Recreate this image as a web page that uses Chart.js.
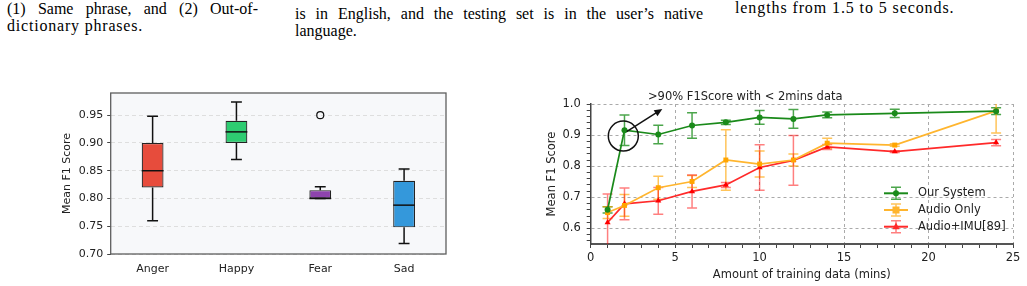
<!DOCTYPE html>
<html>
<head>
<meta charset="utf-8">
<script src="https://cdn.jsdelivr.net/npm/chart.js@4"></script>
<style>
  body { margin: 0; width: 1027px; height: 286px; background: #fff; position: relative; overflow: hidden; }
  .txt { position: absolute; font-family: "Liberation Serif", serif; font-size: 16px; line-height: 17px; color: #000; white-space: nowrap; }
  .just { text-align: justify; text-align-last: justify; white-space: normal; }
  canvas { position: absolute; }
</style>
</head>
<body>
<div class="txt just" style="left:7px; top:-0.5px; width:251px;">(1) Same phrase, and (2) Out-of-</div>
<div class="txt" style="left:7px; top:16.5px; letter-spacing:0.8px;">dictionary phrases.</div>
<div class="txt just" style="left:295px; top:4.5px; width:408px;">is in English, and the testing set is in the user’s native</div>
<div class="txt" style="left:295px; top:21.5px;">language.</div>
<div class="txt" style="left:735px; top:-1px; letter-spacing:0.9px;">lengths from 1.5 to 5 seconds.</div>

<canvas id="boxChart" width="430" height="206" style="left:40px; top:80px;"></canvas>
<canvas id="lineChart" width="487" height="201" style="left:540px; top:85px;"></canvas>

<script>
// ---- left: emotion box plot ----
const emotions = ["Anger", "Happy", "Fear", "Sad"];
const boxMin = [0.760, 0.870, 0.800, 0.719];
const boxQ1 = [0.820, 0.900, 0.800, 0.748];
const boxMedian = [0.850, 0.920, 0.800, 0.788];
const boxQ3 = [0.900, 0.940, 0.815, 0.832];
const boxMax = [0.948, 0.974, 0.821, 0.853];
const boxOutliers = [[], [], [0.95], []];
const boxColors = ["#e74c3c", "#2ecc71", "#8e44ad", "#3498db"];
const boxYTicks = [0.70, 0.75, 0.80, 0.85, 0.90, 0.95];

// ---- right: F1 vs amount of training data ----
const trainMins = [1, 2, 4, 6, 8, 10, 12, 14, 18, 24];
const oursMean = [0.660, 0.916, 0.902, 0.931, 0.941, 0.957, 0.952, 0.965, 0.970, 0.977];
const oursErr = [0.010, 0.049, 0.030, 0.041, 0.007, 0.022, 0.030, 0.009, 0.013, 0.011];
const audioMean = [0.651, 0.674, 0.731, 0.751, 0.820, 0.807, 0.820, 0.874, 0.868, 0.978];
const audioErr = [0.019, 0.035, 0.037, 0.019, 0.097, 0.042, 0.019, 0.016, 0.004, 0.071];
const imuMean = [0.619, 0.679, 0.689, 0.719, 0.740, 0.796, 0.819, 0.862, 0.847, 0.876];
const imuErr = [0.092, 0.051, 0.043, 0.053, 0.008, 0.073, 0.080, 0.008, 0.003, 0.010];
const seriesNames = ["Our System", "Audio Only", "Audio+IMU[89]"];
const xMajorTicks = [0, 5, 10, 15, 20, 25];
const xMinorTicks = [1, 2, 3, 4, 6, 7, 8, 9, 11, 12, 13, 14, 16, 17, 18, 19, 21, 22, 23, 24];
const yMajorTicks = [0.6, 0.7, 0.8, 0.9, 1.0];
const yMinorTicks = [0.56, 0.58, 0.62, 0.64, 0.66, 0.68, 0.72, 0.74, 0.76, 0.78, 0.82, 0.84, 0.86, 0.88, 0.92, 0.94, 0.96, 0.98];
const annotText = ">90% F1Score with < 2mins data";

const FONT = "'DejaVu Sans', sans-serif";

// background + frame of the box plot area
const boxFrame = {
    id: 'boxFrame',
    beforeDraw(chart) {
        const {ctx, chartArea: a} = chart;
        ctx.save();
        ctx.fillStyle = "#f7f8fa";
        ctx.fillRect(a.left, a.top, a.width, a.height);
        ctx.restore();
    },
    afterDraw(chart) {
        const {ctx, chartArea: a} = chart;
        ctx.save();
        ctx.strokeStyle = "#5e5e5e";
        ctx.lineWidth = 1.3;
        ctx.strokeRect(a.left, a.top, a.width, a.height);
        ctx.restore();
    }
};

// whiskers, medians and outliers on top of the floating bars
const boxParts = {
    id: 'boxParts',
    afterDatasetsDraw(chart) {
        const {ctx, scales: {y}} = chart;
        const bars = chart.getDatasetMeta(0).data;
        ctx.save();
        ctx.strokeStyle = "#111";
        bars.forEach((bar, i) => {
            const cx = bar.x, half = bar.width / 2;
            ctx.lineWidth = 1.5;
            ctx.beginPath();
            ctx.moveTo(cx, y.getPixelForValue(boxQ3[i]));
            ctx.lineTo(cx, y.getPixelForValue(boxMax[i]));
            ctx.moveTo(cx - half / 2, y.getPixelForValue(boxMax[i]));
            ctx.lineTo(cx + half / 2, y.getPixelForValue(boxMax[i]));
            ctx.moveTo(cx, y.getPixelForValue(boxQ1[i]));
            ctx.lineTo(cx, y.getPixelForValue(boxMin[i]));
            ctx.moveTo(cx - half / 2, y.getPixelForValue(boxMin[i]));
            ctx.lineTo(cx + half / 2, y.getPixelForValue(boxMin[i]));
            ctx.stroke();
            ctx.beginPath();
            ctx.moveTo(cx - half, y.getPixelForValue(boxMedian[i]));
            ctx.lineTo(cx + half, y.getPixelForValue(boxMedian[i]));
            ctx.stroke();
            ctx.lineWidth = 1.2;
            boxOutliers[i].forEach(v => {
                ctx.beginPath();
                ctx.arc(cx, y.getPixelForValue(v), 3.5, 0, Math.PI * 2);
                ctx.stroke();
            });
        });
        ctx.restore();
    }
};

new Chart(document.getElementById('boxChart'), {
    type: 'bar',
    data: {
        labels: emotions,
        datasets: [{
            data: emotions.map((e, i) => [boxQ1[i], boxQ3[i]]),
            backgroundColor: boxColors,
            borderColor: "#222",
            borderWidth: 1.2,
            borderSkipped: false,
            barPercentage: 0.26,
            categoryPercentage: 1.0
        }]
    },
    options: {
        responsive: false,
        animation: false,
        layout: { padding: { top: 13, right: 24, left: 0, bottom: 0 } },
        plugins: { legend: { display: false }, tooltip: { enabled: false } },
        scales: {
            x: {
                grid: { display: false },
                border: { display: false },
                ticks: { color: "#222", font: { family: FONT, size: 11 }, padding: 1 },
                afterFit: s => { s.height = 32; }
            },
            y: {
                min: 0.70,
                max: 0.99,
                afterBuildTicks: s => { s.ticks = boxYTicks.map(v => ({value: v})); },
                grid: { color: "#dedede", lineWidth: 1, tickColor: "#444", tickLength: 3.5 },
                border: { display: false, dash: [4, 3] },
                ticks: { color: "#222", font: { family: FONT, size: 11 }, padding: 4,
                         callback: v => v.toFixed(2) },
                title: { display: true, text: "Mean F1 Score", color: "#222",
                         font: { family: FONT, size: 11 }, padding: { top: 21, bottom: 0 } },
                afterFit: s => { s.width = 70.7; }
            }
        }
    },
    plugins: [boxFrame, boxParts]
});

// ---- right chart helpers ----
const isMajor = (v, list) => list.some(m => Math.abs(m - v) < 1e-6);

const errorBars = {
    id: 'errorBars',
    beforeDatasetsDraw(chart) {
        const {ctx, chartArea: a, scales: {x, y}} = chart;
        ctx.save();
        ctx.beginPath();
        ctx.rect(a.left, a.top, a.width, a.height);
        ctx.clip();
        ctx.lineWidth = 1.5;
        chart.data.datasets.forEach(ds => {
            ctx.strokeStyle = ds.errorColor;
            ds.data.forEach((p, i) => {
                const px = x.getPixelForValue(p.x);
                const hi = y.getPixelForValue(p.y + ds.errors[i]);
                const lo = y.getPixelForValue(p.y - ds.errors[i]);
                ctx.beginPath();
                ctx.moveTo(px, hi); ctx.lineTo(px, lo);
                ctx.moveTo(px - 5, hi); ctx.lineTo(px + 5, hi);
                ctx.moveTo(px - 5, lo); ctx.lineTo(px + 5, lo);
                ctx.stroke();
            });
        });
        ctx.restore();
    }
};

function drawMarker(ctx, style, x, y, r, color) {
    ctx.fillStyle = color;
    ctx.beginPath();
    if (style === 'rect') {
        ctx.rect(x - r, y - r, 2 * r, 2 * r);
    } else if (style === 'triangle') {
        ctx.moveTo(x, y - r * 1.2);
        ctx.lineTo(x + r, y + r * 0.7);
        ctx.lineTo(x - r, y + r * 0.7);
        ctx.closePath();
    } else {
        ctx.arc(x, y, r, 0, Math.PI * 2);
    }
    ctx.fill();
}

const lineLegend = {
    id: 'lineLegend',
    afterDraw(chart) {
        const {ctx, chartArea: a} = chart;
        const rows = [a.bottom - 50.7, a.bottom - 34, a.bottom - 17.3];
        ctx.save();
        chart.data.datasets.forEach((ds, i) => {
            const y = rows[i];
            const x0 = a.right - 129, x1 = a.right - 105, xm = (x0 + x1) / 2;
            ctx.strokeStyle = ds.errorColor;
            ctx.lineWidth = 1.5;
            ctx.beginPath();
            ctx.moveTo(xm, y - 6); ctx.lineTo(xm, y + 6);
            ctx.moveTo(xm - 5, y - 6); ctx.lineTo(xm + 5, y - 6);
            ctx.moveTo(xm - 5, y + 6); ctx.lineTo(xm + 5, y + 6);
            ctx.stroke();
            ctx.strokeStyle = ds.borderColor;
            ctx.lineWidth = 2;
            ctx.beginPath();
            ctx.moveTo(x0, y); ctx.lineTo(x1, y);
            ctx.stroke();
            drawMarker(ctx, ds.pointStyle, xm, y, ds.pointRadius, ds.borderColor);
            ctx.fillStyle = "#222";
            ctx.font = "11.5px " + FONT;
            ctx.textBaseline = "middle";
            ctx.fillText(ds.label, a.right - 95, y);
        });
        ctx.restore();
    }
};

// circle around the 2-minute point, arrow and the note
const callout = {
    id: 'callout',
    afterDraw(chart) {
        const {ctx, scales: {x, y}} = chart;
        ctx.save();
        ctx.strokeStyle = "#111";
        ctx.fillStyle = "#111";
        ctx.lineWidth = 1.5;
        ctx.beginPath();
        ctx.arc(x.getPixelForValue(1.93), y.getPixelForValue(0.897), 15, 0, Math.PI * 2);
        ctx.stroke();
        const sx = x.getPixelForValue(2.13), sy = y.getPixelForValue(0.911);
        const ex = x.getPixelForValue(4.24), ey = y.getPixelForValue(0.984);
        const ang = Math.atan2(ey - sy, ex - sx);
        ctx.beginPath();
        ctx.moveTo(sx, sy);
        ctx.lineTo(ex - 6 * Math.cos(ang), ey - 6 * Math.sin(ang));
        ctx.stroke();
        ctx.beginPath();
        ctx.moveTo(ex, ey);
        ctx.lineTo(ex - 8 * Math.cos(ang) + 3.5 * Math.sin(ang), ey - 8 * Math.sin(ang) - 3.5 * Math.cos(ang));
        ctx.lineTo(ex - 8 * Math.cos(ang) - 3.5 * Math.sin(ang), ey - 8 * Math.sin(ang) + 3.5 * Math.cos(ang));
        ctx.closePath();
        ctx.fill();
        ctx.fillStyle = "#222";
        ctx.font = "11.5px " + FONT;
        ctx.textBaseline = "middle";
        ctx.fillText(annotText, x.getPixelForValue(3.39), y.getPixelForValue(1.0216));
        ctx.restore();
    }
};

const toPoints = vals => trainMins.map((m, i) => ({x: m, y: vals[i]}));

new Chart(document.getElementById('lineChart'), {
    type: 'scatter',
    data: {
        datasets: [{
            label: seriesNames[0],
            data: toPoints(oursMean),
            errors: oursErr,
            errorColor: "rgba(0,128,0,0.7)",
            borderColor: "#1a8a1a",
            backgroundColor: "#1a8a1a",
            pointStyle: 'circle',
            pointRadius: 3
        }, {
            label: seriesNames[1],
            data: toPoints(audioMean),
            errors: audioErr,
            errorColor: "rgba(255,165,0,0.65)",
            borderColor: "#ffb52e",
            backgroundColor: "#ffa500",
            pointStyle: 'rect',
            pointRadius: 3.5
        }, {
            label: seriesNames[2],
            data: toPoints(imuMean),
            errors: imuErr,
            errorColor: "rgba(255,0,0,0.5)",
            borderColor: "#ff2a2a",
            backgroundColor: "#ff0000",
            pointStyle: 'triangle',
            pointRadius: 3.5
        }].map(ds => Object.assign(ds, { showLine: true, borderWidth: 1.7, pointBorderWidth: 0 }))
    },
    options: {
        responsive: false,
        animation: false,
        clip: false,
        layout: { padding: { top: 19, right: 14, left: 0, bottom: 0 } },
        plugins: { legend: { display: false }, tooltip: { enabled: false } },
        scales: {
            x: {
                type: 'linear',
                min: 0,
                max: 25,
                afterBuildTicks: s => { s.ticks = xMajorTicks.concat(xMinorTicks).sort((a, b) => a - b).map(v => ({value: v})); },
                grid: {
                    color: c => isMajor(c.tick.value, xMajorTicks) ? "#aaaaaa" : "rgba(0,0,0,0)",
                    tickColor: "#444",
                    tickLength: 4
                },
                border: { color: "#555", width: 2, dash: [3, 3] },
                ticks: { color: "#222", font: { family: FONT, size: 11.5 }, padding: 3.5, autoSkip: false, maxRotation: 0,
                         callback: v => isMajor(v, xMajorTicks) ? String(v) : '' },
                title: { display: true, text: "Amount of training data (mins)", color: "#222",
                         font: { family: FONT, size: 11.5 }, padding: { top: 0, bottom: 4 } },
                afterFit: s => { s.height = 42; }
            },
            y: {
                min: 0.55,
                max: 1.0,
                afterBuildTicks: s => { s.ticks = yMajorTicks.concat(yMinorTicks).sort((a, b) => a - b).map(v => ({value: v})); },
                grid: {
                    color: c => isMajor(c.tick.value, yMajorTicks) ? "#aaaaaa" : "rgba(0,0,0,0)",
                    tickColor: "#444",
                    tickLength: 4
                },
                border: { color: "#444", width: 1.5, dash: [3, 3] },
                ticks: { color: "#222", font: { family: FONT, size: 11.5 }, padding: 6, autoSkip: false,
                         callback: v => isMajor(v, yMajorTicks) ? v.toFixed(1) : '' },
                title: { display: true, text: "Mean F1 Score", color: "#222",
                         font: { family: FONT, size: 11.5 }, padding: { top: 5, bottom: 0 } },
                afterFit: s => { s.width = 50.7; }
            }
        }
    },
    plugins: [errorBars, lineLegend, callout]
});
</script>
</body>
</html>
